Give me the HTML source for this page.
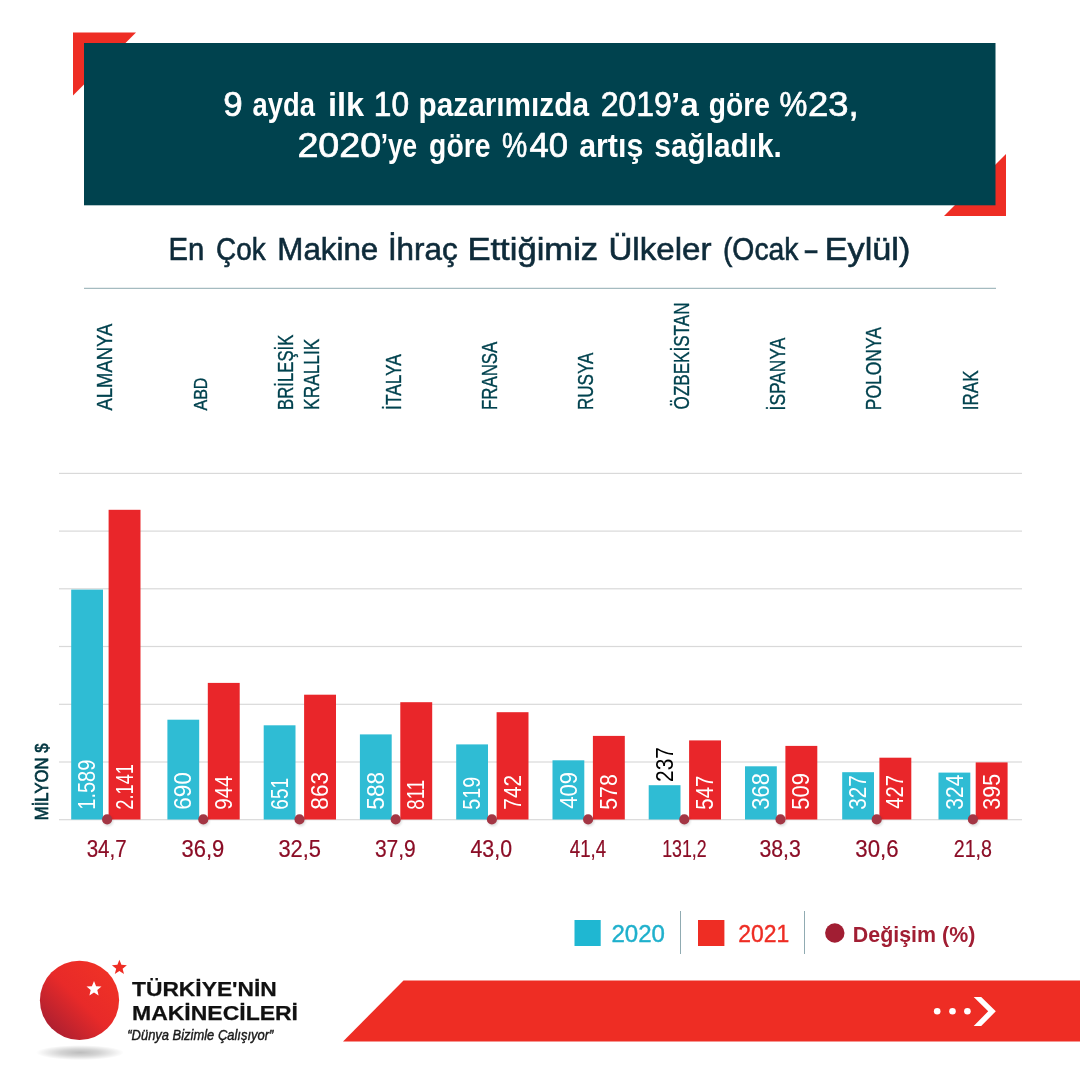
<!DOCTYPE html>
<html lang="tr">
<head>
<meta charset="utf-8">
<title>En Çok Makine İhraç Ettiğimiz Ülkeler</title>
<style>
html,body{margin:0;padding:0;background:#fff;}
body{width:1080px;height:1080px;overflow:hidden;font-family:"Liberation Sans", sans-serif;}
svg{display:block;font-family:"Liberation Sans", sans-serif;}
</style>
</head>
<body>
<svg width="1080" height="1080" viewBox="0 0 1080 1080">
<defs>
<linearGradient id="lg" x1="0.85" y1="0.15" x2="0.15" y2="0.85">
<stop offset="0" stop-color="#ef3126"/><stop offset="0.5" stop-color="#e82a29"/><stop offset="1" stop-color="#b02030"/>
</linearGradient>
<radialGradient id="sh" cx="0.5" cy="0.5" r="0.5"><stop offset="0" stop-color="#000" stop-opacity="0.26"/><stop offset="0.45" stop-color="#000" stop-opacity="0.17"/><stop offset="1" stop-color="#000" stop-opacity="0"/></radialGradient>
<filter id="b1" x="-100%" y="-100%" width="300%" height="300%"><feGaussianBlur stdDeviation="1.3"/></filter>
<filter id="b2" x="-50%" y="-200%" width="200%" height="500%"><feGaussianBlur stdDeviation="3.5"/></filter>
</defs>
<rect width="1080" height="1080" fill="#fff"/>
<polygon points="73,32.4 136,32.4 73,95.4" fill="#ee2d24"/>
<polygon points="1006,216 1006,154 944,216" fill="#ee2d24"/>
<rect x="84" y="43" width="911.5" height="162.3" fill="#00424e"/>
<text y="115.8" font-size="32.5" font-weight="bold" fill="#fff"><tspan x="223.2" textLength="19.4" lengthAdjust="spacingAndGlyphs" font-weight="normal" font-size="35" stroke="#fff" stroke-width="0.7">9</tspan> <tspan x="252.6" textLength="62.3" lengthAdjust="spacingAndGlyphs">ayda</tspan> <tspan x="328.0" textLength="36.2" lengthAdjust="spacingAndGlyphs">ilk</tspan> <tspan x="373.8" textLength="35.2" lengthAdjust="spacingAndGlyphs" font-weight="normal" font-size="35" stroke="#fff" stroke-width="0.7">10</tspan> <tspan x="418.6" textLength="170.4" lengthAdjust="spacingAndGlyphs">pazarımızda</tspan> <tspan x="600.7" textLength="71.1" lengthAdjust="spacingAndGlyphs" font-weight="normal" font-size="35" stroke="#fff" stroke-width="0.7">2019</tspan><tspan x="671.0" textLength="27.8" lengthAdjust="spacingAndGlyphs">’a</tspan> <tspan x="708.8" textLength="61.2" lengthAdjust="spacingAndGlyphs">göre</tspan> <tspan x="779.6" textLength="27.8" lengthAdjust="spacingAndGlyphs" font-weight="normal" font-size="35" stroke="#fff" stroke-width="0.7">%</tspan><tspan x="808.0" textLength="50.6" lengthAdjust="spacingAndGlyphs" font-weight="normal" font-size="35" stroke="#fff" stroke-width="0.7">23,</tspan></text>
<text y="157.1" font-size="32.5" font-weight="bold" fill="#fff"><tspan x="297.4" textLength="83.8" lengthAdjust="spacingAndGlyphs" font-weight="normal" font-size="35" stroke="#fff" stroke-width="0.7">2020</tspan><tspan x="380.7" textLength="36.4" lengthAdjust="spacingAndGlyphs">’ye</tspan> <tspan x="429.1" textLength="61.4" lengthAdjust="spacingAndGlyphs">göre</tspan> <tspan x="502.0" textLength="25.2" lengthAdjust="spacingAndGlyphs" font-weight="normal" font-size="35" stroke="#fff" stroke-width="0.7">%</tspan><tspan x="529.5" textLength="38.5" lengthAdjust="spacingAndGlyphs" font-weight="normal" font-size="35" stroke="#fff" stroke-width="0.7">40</tspan> <tspan x="579.2" textLength="64.1" lengthAdjust="spacingAndGlyphs">artış</tspan> <tspan x="654.3" textLength="127.6" lengthAdjust="spacingAndGlyphs">sağladık.</tspan></text>
<text y="259.5" font-size="31.5" font-weight="normal" fill="#0e2b3a" stroke="#0e2b3a" stroke-width="0.6"><tspan x="168.4" textLength="35.8" lengthAdjust="spacingAndGlyphs">En</tspan> <tspan x="216.0" textLength="49.6" lengthAdjust="spacingAndGlyphs">Çok</tspan> <tspan x="277.3" textLength="101.0" lengthAdjust="spacingAndGlyphs">Makine</tspan> <tspan x="387.9" textLength="69.8" lengthAdjust="spacingAndGlyphs">İhraç</tspan> <tspan x="467.4" textLength="130.8" lengthAdjust="spacingAndGlyphs">Ettiğimiz</tspan> <tspan x="608.4" textLength="103.1" lengthAdjust="spacingAndGlyphs">Ülkeler</tspan> <tspan x="722.9" textLength="75.6" lengthAdjust="spacingAndGlyphs">(Ocak</tspan> <tspan x="803.0" textLength="16.2" lengthAdjust="spacingAndGlyphs">-</tspan> <tspan x="824.7" textLength="85.6" lengthAdjust="spacingAndGlyphs">Eylül)</tspan></text>
<rect x="84" y="287.8" width="912" height="1" fill="#8fabb1"/>
<text x="0" y="0" transform="translate(111.8 410.6) rotate(-90)" font-size="22.5" font-weight="normal" fill="#00424e" text-anchor="start" textLength="87.0" lengthAdjust="spacingAndGlyphs" stroke="#00424e" stroke-width="0.35">ALMANYA</text>
<text x="0" y="0" transform="translate(207.2 410.6) rotate(-90)" font-size="19" font-weight="normal" fill="#00424e" text-anchor="start" textLength="33.1" lengthAdjust="spacingAndGlyphs" stroke="#00424e" stroke-width="0.35">ABD</text>
<text x="0" y="0" transform="translate(293.3 409.9) rotate(-90)" font-size="22.5" font-weight="normal" fill="#00424e" text-anchor="start" textLength="75.2" lengthAdjust="spacingAndGlyphs" stroke="#00424e" stroke-width="0.35">BRİLEŞİK</text>
<text x="0" y="0" transform="translate(318.8 409.9) rotate(-90)" font-size="22.5" font-weight="normal" fill="#00424e" text-anchor="start" textLength="71.2" lengthAdjust="spacingAndGlyphs" stroke="#00424e" stroke-width="0.35">KRALLIK</text>
<text x="0" y="0" transform="translate(401.1 409.9) rotate(-90)" font-size="22.5" font-weight="normal" fill="#00424e" text-anchor="start" textLength="55.6" lengthAdjust="spacingAndGlyphs" stroke="#00424e" stroke-width="0.35">İTALYA</text>
<text x="0" y="0" transform="translate(496.6 410.1) rotate(-90)" font-size="22.5" font-weight="normal" fill="#00424e" text-anchor="start" textLength="68.4" lengthAdjust="spacingAndGlyphs" stroke="#00424e" stroke-width="0.35">FRANSA</text>
<text x="0" y="0" transform="translate(592.9 410.1) rotate(-90)" font-size="22.5" font-weight="normal" fill="#00424e" text-anchor="start" textLength="57.6" lengthAdjust="spacingAndGlyphs" stroke="#00424e" stroke-width="0.35">RUSYA</text>
<text x="0" y="0" transform="translate(689.4 409.4) rotate(-90)" font-size="22.5" font-weight="normal" fill="#00424e" text-anchor="start" textLength="106.9" lengthAdjust="spacingAndGlyphs" stroke="#00424e" stroke-width="0.35">ÖZBEKİSTAN</text>
<text x="0" y="0" transform="translate(785.4 410.4) rotate(-90)" font-size="22.5" font-weight="normal" fill="#00424e" text-anchor="start" textLength="72.6" lengthAdjust="spacingAndGlyphs" stroke="#00424e" stroke-width="0.35">İSPANYA</text>
<text x="0" y="0" transform="translate(880.8 410.2) rotate(-90)" font-size="22.5" font-weight="normal" fill="#00424e" text-anchor="start" textLength="83.2" lengthAdjust="spacingAndGlyphs" stroke="#00424e" stroke-width="0.35">POLONYA</text>
<text x="0" y="0" transform="translate(977.8 410.2) rotate(-90)" font-size="22.5" font-weight="normal" fill="#00424e" text-anchor="start" textLength="39.8" lengthAdjust="spacingAndGlyphs" stroke="#00424e" stroke-width="0.35">IRAK</text>
<rect x="59" y="472.8" width="963" height="1.2" fill="#d9d9d9"/>
<rect x="59" y="530.5" width="963" height="1.2" fill="#d9d9d9"/>
<rect x="59" y="588.2" width="963" height="1.2" fill="#d9d9d9"/>
<rect x="59" y="645.9" width="963" height="1.2" fill="#d9d9d9"/>
<rect x="59" y="703.7" width="963" height="1.2" fill="#d9d9d9"/>
<rect x="59" y="761.4" width="963" height="1.2" fill="#d9d9d9"/>
<rect x="59" y="819.1" width="963" height="1.2" fill="#d9d9d9"/>
<rect x="71.2" y="589.6" width="31.8" height="229.9" fill="#2fbcd4"/>
<rect x="108.6" y="509.8" width="31.9" height="309.7" fill="#e9262a"/>
<text x="0" y="0" transform="translate(95.2 809.7) rotate(-90)" font-size="23" font-weight="normal" fill="#fff" text-anchor="start" textLength="50.0" lengthAdjust="spacingAndGlyphs">1.589</text>
<text x="0" y="0" transform="translate(132.6 809.7) rotate(-90)" font-size="23" font-weight="normal" fill="#fff" text-anchor="start" textLength="45.6" lengthAdjust="spacingAndGlyphs">2.141</text>
<rect x="167.4" y="719.7" width="31.8" height="99.8" fill="#2fbcd4"/>
<rect x="207.8" y="682.9" width="31.9" height="136.6" fill="#e9262a"/>
<text x="0" y="0" transform="translate(191.4 809.7) rotate(-90)" font-size="23" font-weight="normal" fill="#fff" text-anchor="start" textLength="37.6" lengthAdjust="spacingAndGlyphs">690</text>
<text x="0" y="0" transform="translate(231.8 809.7) rotate(-90)" font-size="23" font-weight="normal" fill="#fff" text-anchor="start" textLength="34.2" lengthAdjust="spacingAndGlyphs">944</text>
<rect x="263.7" y="725.3" width="31.8" height="94.2" fill="#2fbcd4"/>
<rect x="304.1" y="694.7" width="31.9" height="124.8" fill="#e9262a"/>
<text x="0" y="0" transform="translate(287.7 809.7) rotate(-90)" font-size="23" font-weight="normal" fill="#fff" text-anchor="start" textLength="31.8" lengthAdjust="spacingAndGlyphs">651</text>
<text x="0" y="0" transform="translate(328.1 809.7) rotate(-90)" font-size="23" font-weight="normal" fill="#fff" text-anchor="start" textLength="37.8" lengthAdjust="spacingAndGlyphs">863</text>
<rect x="359.9" y="734.4" width="31.8" height="85.1" fill="#2fbcd4"/>
<rect x="400.3" y="702.2" width="31.9" height="117.3" fill="#e9262a"/>
<text x="0" y="0" transform="translate(383.9 809.7) rotate(-90)" font-size="23" font-weight="normal" fill="#fff" text-anchor="start" textLength="37.8" lengthAdjust="spacingAndGlyphs">588</text>
<text x="0" y="0" transform="translate(424.3 809.7) rotate(-90)" font-size="23" font-weight="normal" fill="#fff" text-anchor="start" textLength="30.0" lengthAdjust="spacingAndGlyphs">811</text>
<rect x="456.2" y="744.4" width="31.8" height="75.1" fill="#2fbcd4"/>
<rect x="496.6" y="712.2" width="31.9" height="107.3" fill="#e9262a"/>
<text x="0" y="0" transform="translate(480.2 809.7) rotate(-90)" font-size="23" font-weight="normal" fill="#fff" text-anchor="start" textLength="32.9" lengthAdjust="spacingAndGlyphs">519</text>
<text x="0" y="0" transform="translate(520.6 809.7) rotate(-90)" font-size="23" font-weight="normal" fill="#fff" text-anchor="start" textLength="34.8" lengthAdjust="spacingAndGlyphs">742</text>
<rect x="552.5" y="760.3" width="31.8" height="59.2" fill="#2fbcd4"/>
<rect x="592.9" y="735.9" width="31.9" height="83.6" fill="#e9262a"/>
<text x="0" y="0" transform="translate(576.5 808.7) rotate(-90)" font-size="23" font-weight="normal" fill="#fff" text-anchor="start" textLength="36.8" lengthAdjust="spacingAndGlyphs">409</text>
<text x="0" y="0" transform="translate(616.9 809.7) rotate(-90)" font-size="23" font-weight="normal" fill="#fff" text-anchor="start" textLength="35.4" lengthAdjust="spacingAndGlyphs">578</text>
<rect x="648.7" y="785.2" width="31.8" height="34.3" fill="#2fbcd4"/>
<rect x="689.1" y="740.4" width="31.9" height="79.1" fill="#e9262a"/>
<text x="0" y="0" transform="translate(672.7 781.9) rotate(-90)" font-size="23" font-weight="normal" fill="#000" text-anchor="start" textLength="34.8" lengthAdjust="spacingAndGlyphs">237</text>
<text x="0" y="0" transform="translate(713.1 809.7) rotate(-90)" font-size="23" font-weight="normal" fill="#fff" text-anchor="start" textLength="34.0" lengthAdjust="spacingAndGlyphs">547</text>
<rect x="745.0" y="766.3" width="31.8" height="53.2" fill="#2fbcd4"/>
<rect x="785.4" y="745.9" width="31.9" height="73.6" fill="#e9262a"/>
<text x="0" y="0" transform="translate(769.0 809.7) rotate(-90)" font-size="23" font-weight="normal" fill="#fff" text-anchor="start" textLength="36.6" lengthAdjust="spacingAndGlyphs">368</text>
<text x="0" y="0" transform="translate(809.4 809.7) rotate(-90)" font-size="23" font-weight="normal" fill="#fff" text-anchor="start" textLength="36.6" lengthAdjust="spacingAndGlyphs">509</text>
<rect x="842.2" y="772.2" width="31.8" height="47.3" fill="#2fbcd4"/>
<rect x="879.4" y="757.7" width="31.9" height="61.8" fill="#e9262a"/>
<text x="0" y="0" transform="translate(866.2 809.7) rotate(-90)" font-size="23" font-weight="normal" fill="#fff" text-anchor="start" textLength="34.4" lengthAdjust="spacingAndGlyphs">327</text>
<text x="0" y="0" transform="translate(903.4 808.7) rotate(-90)" font-size="23" font-weight="normal" fill="#fff" text-anchor="start" textLength="33.5" lengthAdjust="spacingAndGlyphs">427</text>
<rect x="938.5" y="772.6" width="31.8" height="46.9" fill="#2fbcd4"/>
<rect x="975.7" y="762.4" width="31.9" height="57.1" fill="#e9262a"/>
<text x="0" y="0" transform="translate(962.5 809.7) rotate(-90)" font-size="23" font-weight="normal" fill="#fff" text-anchor="start" textLength="35.0" lengthAdjust="spacingAndGlyphs">324</text>
<text x="0" y="0" transform="translate(999.7 809.7) rotate(-90)" font-size="23" font-weight="normal" fill="#fff" text-anchor="start" textLength="35.8" lengthAdjust="spacingAndGlyphs">395</text>
<circle cx="108.1" cy="821" r="5.2" fill="#000" opacity="0.13" filter="url(#b1)"/>
<circle cx="107.1" cy="819.4" r="5.05" fill="#a33644"/>
<text x="86.7" y="856.7" font-size="23.2" font-weight="normal" fill="#8b0d26" text-anchor="start" textLength="40.0" lengthAdjust="spacingAndGlyphs" stroke="#8b0d26" stroke-width="0.2">34,7</text>
<circle cx="204.3" cy="821" r="5.2" fill="#000" opacity="0.13" filter="url(#b1)"/>
<circle cx="203.3" cy="819.4" r="5.05" fill="#a33644"/>
<text x="181.5" y="856.7" font-size="23.2" font-weight="normal" fill="#8b0d26" text-anchor="start" textLength="42.8" lengthAdjust="spacingAndGlyphs" stroke="#8b0d26" stroke-width="0.2">36,9</text>
<circle cx="300.5" cy="821" r="5.2" fill="#000" opacity="0.13" filter="url(#b1)"/>
<circle cx="299.5" cy="819.4" r="5.05" fill="#a33644"/>
<text x="278.4" y="856.7" font-size="23.2" font-weight="normal" fill="#8b0d26" text-anchor="start" textLength="42.6" lengthAdjust="spacingAndGlyphs" stroke="#8b0d26" stroke-width="0.2">32,5</text>
<circle cx="396.7" cy="821" r="5.2" fill="#000" opacity="0.13" filter="url(#b1)"/>
<circle cx="395.7" cy="819.4" r="5.05" fill="#a33644"/>
<text x="374.9" y="856.7" font-size="23.2" font-weight="normal" fill="#8b0d26" text-anchor="start" textLength="40.8" lengthAdjust="spacingAndGlyphs" stroke="#8b0d26" stroke-width="0.2">37,9</text>
<circle cx="492.9" cy="821" r="5.2" fill="#000" opacity="0.13" filter="url(#b1)"/>
<circle cx="491.9" cy="819.4" r="5.05" fill="#a33644"/>
<text x="470.5" y="856.7" font-size="23.2" font-weight="normal" fill="#8b0d26" text-anchor="start" textLength="41.5" lengthAdjust="spacingAndGlyphs" stroke="#8b0d26" stroke-width="0.2">43,0</text>
<circle cx="589.1" cy="821" r="5.2" fill="#000" opacity="0.13" filter="url(#b1)"/>
<circle cx="588.1" cy="819.4" r="5.05" fill="#a33644"/>
<text x="569.8" y="856.7" font-size="23.2" font-weight="normal" fill="#8b0d26" text-anchor="start" textLength="36.3" lengthAdjust="spacingAndGlyphs" stroke="#8b0d26" stroke-width="0.2">41,4</text>
<circle cx="685.3" cy="821" r="5.2" fill="#000" opacity="0.13" filter="url(#b1)"/>
<circle cx="684.3" cy="819.4" r="5.05" fill="#a33644"/>
<text x="662.2" y="856.7" font-size="23.2" font-weight="normal" fill="#8b0d26" text-anchor="start" textLength="44.4" lengthAdjust="spacingAndGlyphs" stroke="#8b0d26" stroke-width="0.2">131,2</text>
<circle cx="781.5" cy="821" r="5.2" fill="#000" opacity="0.13" filter="url(#b1)"/>
<circle cx="780.5" cy="819.4" r="5.05" fill="#a33644"/>
<text x="759.4" y="856.7" font-size="23.2" font-weight="normal" fill="#8b0d26" text-anchor="start" textLength="41.4" lengthAdjust="spacingAndGlyphs" stroke="#8b0d26" stroke-width="0.2">38,3</text>
<circle cx="877.7" cy="821" r="5.2" fill="#000" opacity="0.13" filter="url(#b1)"/>
<circle cx="876.7" cy="819.4" r="5.05" fill="#a33644"/>
<text x="855.3" y="856.7" font-size="23.2" font-weight="normal" fill="#8b0d26" text-anchor="start" textLength="43.2" lengthAdjust="spacingAndGlyphs" stroke="#8b0d26" stroke-width="0.2">30,6</text>
<circle cx="973.9" cy="821" r="5.2" fill="#000" opacity="0.13" filter="url(#b1)"/>
<circle cx="972.9" cy="819.4" r="5.05" fill="#a33644"/>
<text x="953.8" y="856.7" font-size="23.2" font-weight="normal" fill="#8b0d26" text-anchor="start" textLength="38.2" lengthAdjust="spacingAndGlyphs" stroke="#8b0d26" stroke-width="0.2">21,8</text>
<text x="0" y="0" transform="translate(48.4 820.2) rotate(-90)" font-size="19" font-weight="normal" fill="#00353f" text-anchor="start" textLength="76.8" lengthAdjust="spacingAndGlyphs" stroke="#00353f" stroke-width="0.7">MİLYON $</text>
<rect x="574.5" y="920" width="26.2" height="26" fill="#1fb7d2"/>
<text x="611.5" y="942.3" font-size="23.5" font-weight="normal" fill="#1fb0cc" text-anchor="start" textLength="53.5" lengthAdjust="spacingAndGlyphs" stroke="#1fb0cc" stroke-width="0.4">2020</text>
<rect x="680" y="911" width="1" height="43" fill="#90abb2"/>
<rect x="698" y="920" width="26.4" height="26" fill="#ee2d24"/>
<text x="738.3" y="942.3" font-size="23.5" font-weight="normal" fill="#ee2d24" text-anchor="start" textLength="51" lengthAdjust="spacingAndGlyphs" stroke="#ee2d24" stroke-width="0.4">2021</text>
<rect x="804" y="911" width="1" height="43" fill="#90abb2"/>
<circle cx="834.8" cy="933" r="9.7" fill="#a11e33"/>
<text x="852.8" y="942.3" font-size="22.5" font-weight="bold" fill="#a11e33" text-anchor="start" textLength="122.5" lengthAdjust="spacingAndGlyphs">Değişim (%)</text>
<polygon points="403.5,980.5 1080,980.5 1080,1041.5 343,1041.5" fill="#ee2d24"/>
<circle cx="937.2" cy="1011.2" r="3.3" fill="#fff"/>
<circle cx="952.5" cy="1011.2" r="3.3" fill="#fff"/>
<circle cx="967.4" cy="1011.2" r="3.3" fill="#fff"/>
<polygon points="973.7,997 981.2,997 995.8,1011.3 981.2,1026 973.7,1026 988.2,1011.3" fill="#fff"/>
<ellipse cx="80" cy="1052.6" rx="44" ry="7.5" fill="url(#sh)"/>
<circle cx="79.5" cy="1000.3" r="39.6" fill="url(#lg)"/>
<polygon points="94.0,981.1 96.1,986.2 101.5,986.6 97.3,990.1 98.6,995.4 94.0,992.5 89.4,995.4 90.7,990.1 86.5,986.6 91.9,986.2" fill="#fff"/>
<polygon points="119.4,959.7 121.4,964.8 126.9,965.2 122.6,968.7 124.0,974.0 119.4,971.0 114.8,974.0 116.2,968.7 111.9,965.2 117.4,964.8" fill="#ee2d24"/>
<text x="132" y="996.4" font-size="21" font-weight="bold" fill="#111" text-anchor="start" textLength="144.8" lengthAdjust="spacingAndGlyphs" stroke="#111" stroke-width="0.25">TÜRKİYE'NİN</text>
<text x="132" y="1020.1" font-size="21" font-weight="bold" fill="#111" text-anchor="start" textLength="166" lengthAdjust="spacingAndGlyphs" stroke="#111" stroke-width="0.25">MAKİNECİLERİ</text>
<text x="127.3" y="1039.5" font-size="15.5" font-weight="normal" font-style="italic" fill="#1a1a1a" text-anchor="start" textLength="146" lengthAdjust="spacingAndGlyphs" stroke="#1a1a1a" stroke-width="0.45">“Dünya Bizimle Çalışıyor”</text>
</svg>
</body>
</html>
